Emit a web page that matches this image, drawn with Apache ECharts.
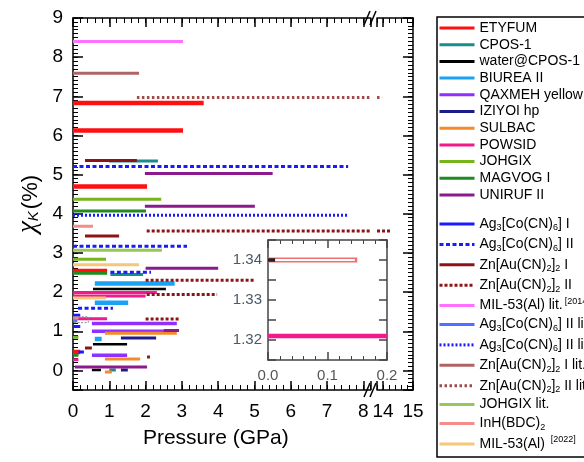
<!DOCTYPE html>
<html>
<head>
<meta charset="utf-8">
<script src="https://cdn.jsdelivr.net/npm/echarts@6/dist/echarts.min.js"></script>
<style>
  html, body { margin: 0; padding: 0; background: #fff; }
  #chart { width: 584px; height: 462px; }
</style>
</head>
<body>
<div id="chart"></div>
<script>
// legend keys (internal), in legend order
var seriesKeys = ['ETYFUM', 'CPOS-1', 'water@CPOS-1', 'BIUREA II', 'QAXMEH yellow', 'IZIYOI hp',
  'SULBAC', 'POWSID', 'JOHGIX', 'MAGVOG I', 'UNIRUF II', 'Ag3I', 'Ag3II', 'ZnI', 'ZnII',
  'MIL53lit', 'Ag3IIlit', 'Ag3IIlitDot', 'ZnIlit', 'ZnIIlit', 'JOHGIX lit.', 'InH', 'MIL53_2022'];

// segments per series: [pressure start, pressure end, chi_K]
var ETYFUM = [[0, 3.6, 6.83], [0, 3.03, 6.13], [0, 2.04, 4.7], [0, 0.94, 2.54], [0, 0.2, 0.47]];
var CPOS1 = [[0.99, 2.34, 5.35], [1.03, 1.93, 2.45], [1.0, 1.18, 0.01]];
var waterCPOS1 = [[0.55, 2.56, 2.08], [0.55, 1.49, 0.67], [0.52, 0.77, 0.01]];
var BIUREA = [[0.6, 2.8, 2.22], [0.6, 1.52, 1.73], [0.6, 0.79, 0.8]];
var QAXMEH = [[0.52, 2.86, 1.2], [0.52, 2.56, 1.0], [0.52, 1.49, 0.39]];
var IZIYOI = [[1.32, 2.29, 0.83], [1.32, 1.51, 0.01]];
var SULBAC = [[0.88, 2.86, 0.95], [0.88, 1.85, 0.29], [0.88, 1.07, -0.04]];
var POWSID = [[0, 2.31, 1.99], [0, 2.0, 1.9], [0, 0.94, 1.32], [0, 0.15, 0.27]];
var JOHGIX = [[0, 2.43, 4.37], [0, 0.91, 2.84], [0, 0.15, 0.85]];
var MAGVOG = [[0, 2.01, 4.07], [0, 0.94, 2.48], [0, 0.15, 0.39]];
var UNIRUF = [[1.98, 5.5, 5.03], [1.98, 5.01, 4.19], [2.0, 4.0, 2.61], [2.5, 2.92, 1.02], [0.05, 2.04, 0.09]];
var Ag3I = [[0, 0.2, 1.41], [0, 0.2, 1.12], [0.15, 0.3, 0.47]];
var Ag3II = [[0, 7.58, 5.21], [0, 3.14, 3.17], [1.03, 2.15, 2.51], [0.14, 1.1, 1.59]];
var ZnI = [[0.33, 1.76, 5.36], [0.33, 1.27, 3.43], [0.33, 0.52, 0.57]];
var ZnII = [[2.03, 14.25, 3.56], [2.0, 4.98, 2.3], [2.03, 3.97, 1.94], [2.0, 2.95, 1.31], [2.04, 2.12, 0.34]];
var MIL53lit = [[0, 3.03, 8.4]];
var Ag3IIlit = [[0, 0.12, 1.27]];
var Ag3IIlitDot = [[0, 7.58, 3.96]];
var ZnIlit = [[0, 1.82, 7.59]];
var ZnIIlit = [[1.76, 13.97, 6.97]];
var JOHGIXlit = [[0, 2.45, 3.07]];
var InH = [[0, 0.55, 3.68], [0, 0.15, 1.34]];
var MIL53_2022 = [[0, 1.82, 2.7], [0, 0.91, 1.85]];

var segments = [ETYFUM, CPOS1, waterCPOS1, BIUREA, QAXMEH, IZIYOI, SULBAC, POWSID, JOHGIX, MAGVOG,
  UNIRUF, Ag3I, Ag3II, ZnI, ZnII, MIL53lit, Ag3IIlit, Ag3IIlitDot, ZnIlit, ZnIIlit, JOHGIXlit, InH, MIL53_2022];

// inset (zoom of the region near 0 GPa)
var insetInH = [0, 0.15, 1.34];
var insetWater = [0, 0.012, 1.34];
var insetPOWSID = [0, 0.2, 1.321];
// dashed box in the main plot marking the zoomed region: x0, x1, y0, y1
var zoomBox = [0.03, 0.42, 1.22, 1.37];

// x axis is broken between these values
var breakLo = 8.2, breakHi = 13.8;

var styles = [
  {c: '#ff1010', w: 4.5}, {c: '#1a8c8c', w: 3}, {c: '#000000', w: 2.5}, {c: '#1aa3f5', w: 4.5},
  {c: '#9030ff', w: 3.5}, {c: '#1c1c8a', w: 3}, {c: '#f58a2a', w: 3}, {c: '#f01a8c', w: 3},
  {c: '#78b41c', w: 3}, {c: '#1e8c1e', w: 3}, {c: '#8c1a8c', w: 3}, {c: '#1a1aff', w: 3},
  {c: '#1a1aff', w: 3, t: [4, 2.5]}, {c: '#8c1414', w: 3}, {c: '#8c1414', w: 3, t: [3, 2]},
  {c: '#ff70ff', w: 3}, {c: '#5070ff', w: 3}, {c: '#1a1aff', w: 3, t: [2, 2]},
  {c: '#b06464', w: 3}, {c: '#a04a4a', w: 3, t: [2.5, 2.5]}, {c: '#98c85a', w: 3},
  {c: '#f58c8c', w: 3}, {c: '#f5c878', w: 3}
];

var legendLabels = {
  'Ag3I': '{n|Ag}{s|3}{n|[Co(CN)}{s|6}{n|] I}',
  'Ag3II': '{n|Ag}{s|3}{n|[Co(CN)}{s|6}{n|] II}',
  'ZnI': '{n|Zn[Au(CN)}{s|2}{n|]}{s|2}{n| I}',
  'ZnII': '{n|Zn[Au(CN)}{s|2}{n|]}{s|2}{n| II}',
  'MIL53lit': '{n|MIL-53(Al) lit.}{p|[2014]}',
  'Ag3IIlit': '{n|Ag}{s|3}{n|[Co(CN)}{s|6}{n|] II lit.}',
  'Ag3IIlitDot': '{n|Ag}{s|3}{n|[Co(CN)}{s|6}{n|] II lit.}',
  'ZnIlit': '{n|Zn[Au(CN)}{s|2}{n|]}{s|2}{n| I lit.}',
  'ZnIIlit': '{n|Zn[Au(CN)}{s|2}{n|]}{s|2}{n| II lit.}',
  'InH': '{n|InH(BDC)}{s|2}',
  'MIL53_2022': '{n|MIL-53(Al) }{p|[2022]}'
};

var FONT = 'Arial, "Liberation Sans", sans-serif';

function segData(segs, lo, hi) {
  var out = [];
  segs.forEach(function (s) {
    var a = Math.max(s[0], lo), b = Math.min(s[1], hi);
    if (b > a) out.push([a, s[2]], [b, s[2]], ['-', '-']);
  });
  return out;
}

function lineSeries(name, data, st, xi, yi) {
  return {
    type: 'line', name: name, xAxisIndex: xi, yAxisIndex: yi, data: data,
    symbol: 'none', silent: true, animation: false, connectNulls: false,
    lineStyle: {color: st.c, width: st.w, type: st.t || 'solid', cap: 'butt'},
    itemStyle: {color: st.c, opacity: 0},
    emphasis: {disabled: true}
  };
}

var series = [];
seriesKeys.forEach(function (k, i) {
  series.push(lineSeries(k, segData(segments[i], -1, breakLo), styles[i], 0, 0));
  var right = segData(segments[i], breakHi, 20);
  if (right.length) series.push(lineSeries(k, right, styles[i], 4, 2));
});
series.push(lineSeries('box', [[zoomBox[0], zoomBox[2]], [zoomBox[1], zoomBox[2]], [zoomBox[1], zoomBox[3]],
  [zoomBox[0], zoomBox[3]], [zoomBox[0], zoomBox[2]]], {c: '#888', w: 1, t: [2, 1.5]}, 0, 0));

// inset series
series.push(lineSeries('in-InH', segData([insetInH], 0, 0.2), {c: '#f07070', w: 5}, 8, 4));
series.push(lineSeries('in-InH2', segData([[insetInH[0] + 0.004, insetInH[1] - 0.004, insetInH[2]]], 0, 0.2), {c: '#fff', w: 1.8}, 8, 4));
series.push(lineSeries('in-water', segData([insetWater], 0, 0.2), {c: '#222', w: 3.5}, 8, 4));
series.push(lineSeries('in-POWSID', segData([insetPOWSID], 0, 0.2), {c: '#f01a8c', w: 4.5}, 8, 4));

function intLabel(v) { return Math.abs(v - Math.round(v)) < 1e-6 ? String(Math.round(v)) : ''; }

function axis(o) {
  var col = o.color || '#000';
  var a = {
    type: 'value', gridIndex: o.grid, position: o.pos, min: o.min, max: o.max, silent: true,
    axisLine: {show: !o.minor, onZero: false, lineStyle: {color: col, width: 1.5}},
    axisTick: {show: true, inside: true, length: o.tick, lineStyle: {color: col, width: o.minor ? 1 : 1.5}},
    minorTick: {show: false},
    axisLabel: {show: false},
    splitLine: {show: false}
  };
  if (o.interval != null) a.interval = o.interval;
  if (o.fixed != null) { a.minInterval = o.fixed; a.maxInterval = o.fixed; a.splitNumber = o.split; }
  if (o.minorSplit) a.minorTick = {show: true, splitNumber: o.minorSplit, length: o.minorLen, lineStyle: {color: col, width: 1}};
  if (o.label) a.axisLabel = Object.assign({show: true, fontFamily: FONT, color: '#000'}, o.label);
  return a;
}

var xAxes = [
  axis({grid: 0, pos: 'bottom', min: 0, max: breakLo, interval: 1, tick: 9,
    label: {fontSize: 19, margin: 12, formatter: intLabel}}),
  axis({grid: 0, pos: 'bottom', min: 0, max: breakLo, interval: 0.2, tick: 5, minor: true}),
  axis({grid: 0, pos: 'top', min: 0, max: breakLo, interval: 1, tick: 9}),
  axis({grid: 0, pos: 'top', min: 0, max: breakLo, interval: 0.2, tick: 5, minor: true}),
  axis({grid: 1, pos: 'bottom', min: breakHi, max: 15, fixed: 1, split: 1, tick: 9,
    label: {fontSize: 19, margin: 12, formatter: intLabel}}),
  axis({grid: 1, pos: 'bottom', min: breakHi, max: 15, interval: 0.2, tick: 5, minor: true}),
  axis({grid: 1, pos: 'top', min: breakHi, max: 15, fixed: 1, split: 1, tick: 9}),
  axis({grid: 1, pos: 'top', min: breakHi, max: 15, interval: 0.2, tick: 5, minor: true}),
  axis({grid: 2, pos: 'bottom', min: 0, max: 0.2, interval: 0.1, tick: 8, minorSplit: 5, minorLen: 4, color: '#444',
    label: {fontSize: 15, margin: 8, color: '#555', formatter: function (v) { return v.toFixed(1); }}}),
  axis({grid: 2, pos: 'top', min: 0, max: 0.2, interval: 0.1, tick: 8, minorSplit: 5, minorLen: 4, color: '#444'})
];
xAxes[0].name = 'Pressure (GPa)';
xAxes[0].nameLocation = 'middle';
xAxes[0].nameGap = 38;
xAxes[0].nameTextStyle = {fontFamily: FONT, fontSize: 21, color: '#000', padding: [0, 12, 0, 0]};

var yAxes = [
  axis({grid: 0, pos: 'left', min: -0.5, max: 9, fixed: 1, split: 10, tick: 10,
    label: {fontSize: 19, margin: 10, formatter: intLabel}}),
  axis({grid: 0, pos: 'left', min: -0.5, max: 9, interval: 0.1, tick: 5, minor: true}),
  axis({grid: 1, pos: 'right', min: -0.5, max: 9, fixed: 1, split: 10, tick: 10}),
  axis({grid: 1, pos: 'right', min: -0.5, max: 9, interval: 0.1, tick: 5, minor: true}),
  axis({grid: 2, pos: 'left', min: 1.315, max: 1.345, interval: 0.005, tick: 8, color: '#444',
    label: {fontSize: 15, margin: 6, color: '#4a5868', formatter: function (v) {
      return Math.abs(v * 100 - Math.round(v * 100)) < 1e-6 ? v.toFixed(2) : '';
    }}}),
  axis({grid: 2, pos: 'right', min: 1.315, max: 1.345, interval: 0.005, tick: 8, color: '#444'})
];
yAxes[0].name = '{c|χ}{k|K}{n|(%)}';
yAxes[0].nameLocation = 'middle';
yAxes[0].nameGap = 28;
yAxes[0].nameTextStyle = {fontFamily: FONT, color: '#000', rich: {
  c: {fontSize: 27, fontStyle: 'italic', fontFamily: '"Liberation Serif", serif', lineHeight: 26, verticalAlign: 'bottom'},
  k: {fontSize: 15, fontStyle: 'italic', fontFamily: FONT, lineHeight: 12, padding: [12, 2, 0, 0], verticalAlign: 'bottom'},
  n: {fontSize: 22, fontFamily: FONT, lineHeight: 26, verticalAlign: 'bottom'}
}};

function legendRich(lh) {
  return {
    n: {fontSize: 14, fontFamily: FONT, color: '#000', lineHeight: lh, verticalAlign: 'middle'},
    s: {fontSize: 9, fontFamily: FONT, color: '#000', lineHeight: 9, padding: [lh - 9, 0, 0, 0], verticalAlign: 'bottom'},
    p: {fontSize: 9, fontFamily: FONT, color: '#000', lineHeight: 9, padding: [0, 0, 0, 2], verticalAlign: 'top'}
  };
}
function legendFmt(name) { return legendLabels[name] || ('{n|' + name + '}'); }

var legendBase = {
  orient: 'vertical', left: 438, padding: 0, itemWidth: 35, itemHeight: 12,
  formatter: legendFmt, selectedMode: false, inactiveColor: '#000',
  itemStyle: {opacity: 0},
  lineStyle: {width: 3}
};

var option = {
  backgroundColor: '#fff',
  animation: false,
  grid: [
    {left: 73, top: 18, width: 36.3 * breakLo, height: 372, outerBoundsMode: 'none'},
    {left: 377, top: 18, width: 36, height: 372, outerBoundsMode: 'none'},
    {left: 268, top: 240, width: 119, height: 120, show: true, backgroundColor: '#fff', borderWidth: 0, outerBoundsMode: 'none'}
  ],
  xAxis: xAxes,
  yAxis: yAxes,
  legend: [
    Object.assign({}, legendBase, {data: seriesKeys.slice(0, 11), top: 21, itemGap: 2.7,
      textStyle: {fontFamily: FONT, fontSize: 14, color: '#000', rich: legendRich(15)}}),
    Object.assign({}, legendBase, {data: seriesKeys.slice(11), top: 215.5, itemGap: 3.4,
      textStyle: {fontFamily: FONT, fontSize: 14, color: '#000', rich: legendRich(17)}})
  ],
  graphic: [
    {type: 'rect', shape: {x: 437, y: 17, width: 200, height: 440}, style: {fill: 'none', stroke: '#000', lineWidth: 1.5}, silent: true},
    // axis break marks
    {type: 'line', shape: {x1: 364, y1: 25, x2: 370, y2: 11}, style: {stroke: '#000', lineWidth: 1.5}, silent: true},
    {type: 'line', shape: {x1: 370, y1: 25, x2: 376, y2: 11}, style: {stroke: '#000', lineWidth: 1.5}, silent: true},
    {type: 'line', shape: {x1: 364, y1: 397, x2: 370, y2: 383}, style: {stroke: '#000', lineWidth: 1.5}, silent: true},
    {type: 'line', shape: {x1: 370, y1: 397, x2: 376, y2: 383}, style: {stroke: '#000', lineWidth: 1.5}, silent: true}
  ],
  series: series
};

var chart = echarts.init(document.getElementById('chart'), null, {renderer: 'canvas'});
chart.setOption(option);
</script>
</body>
</html>
